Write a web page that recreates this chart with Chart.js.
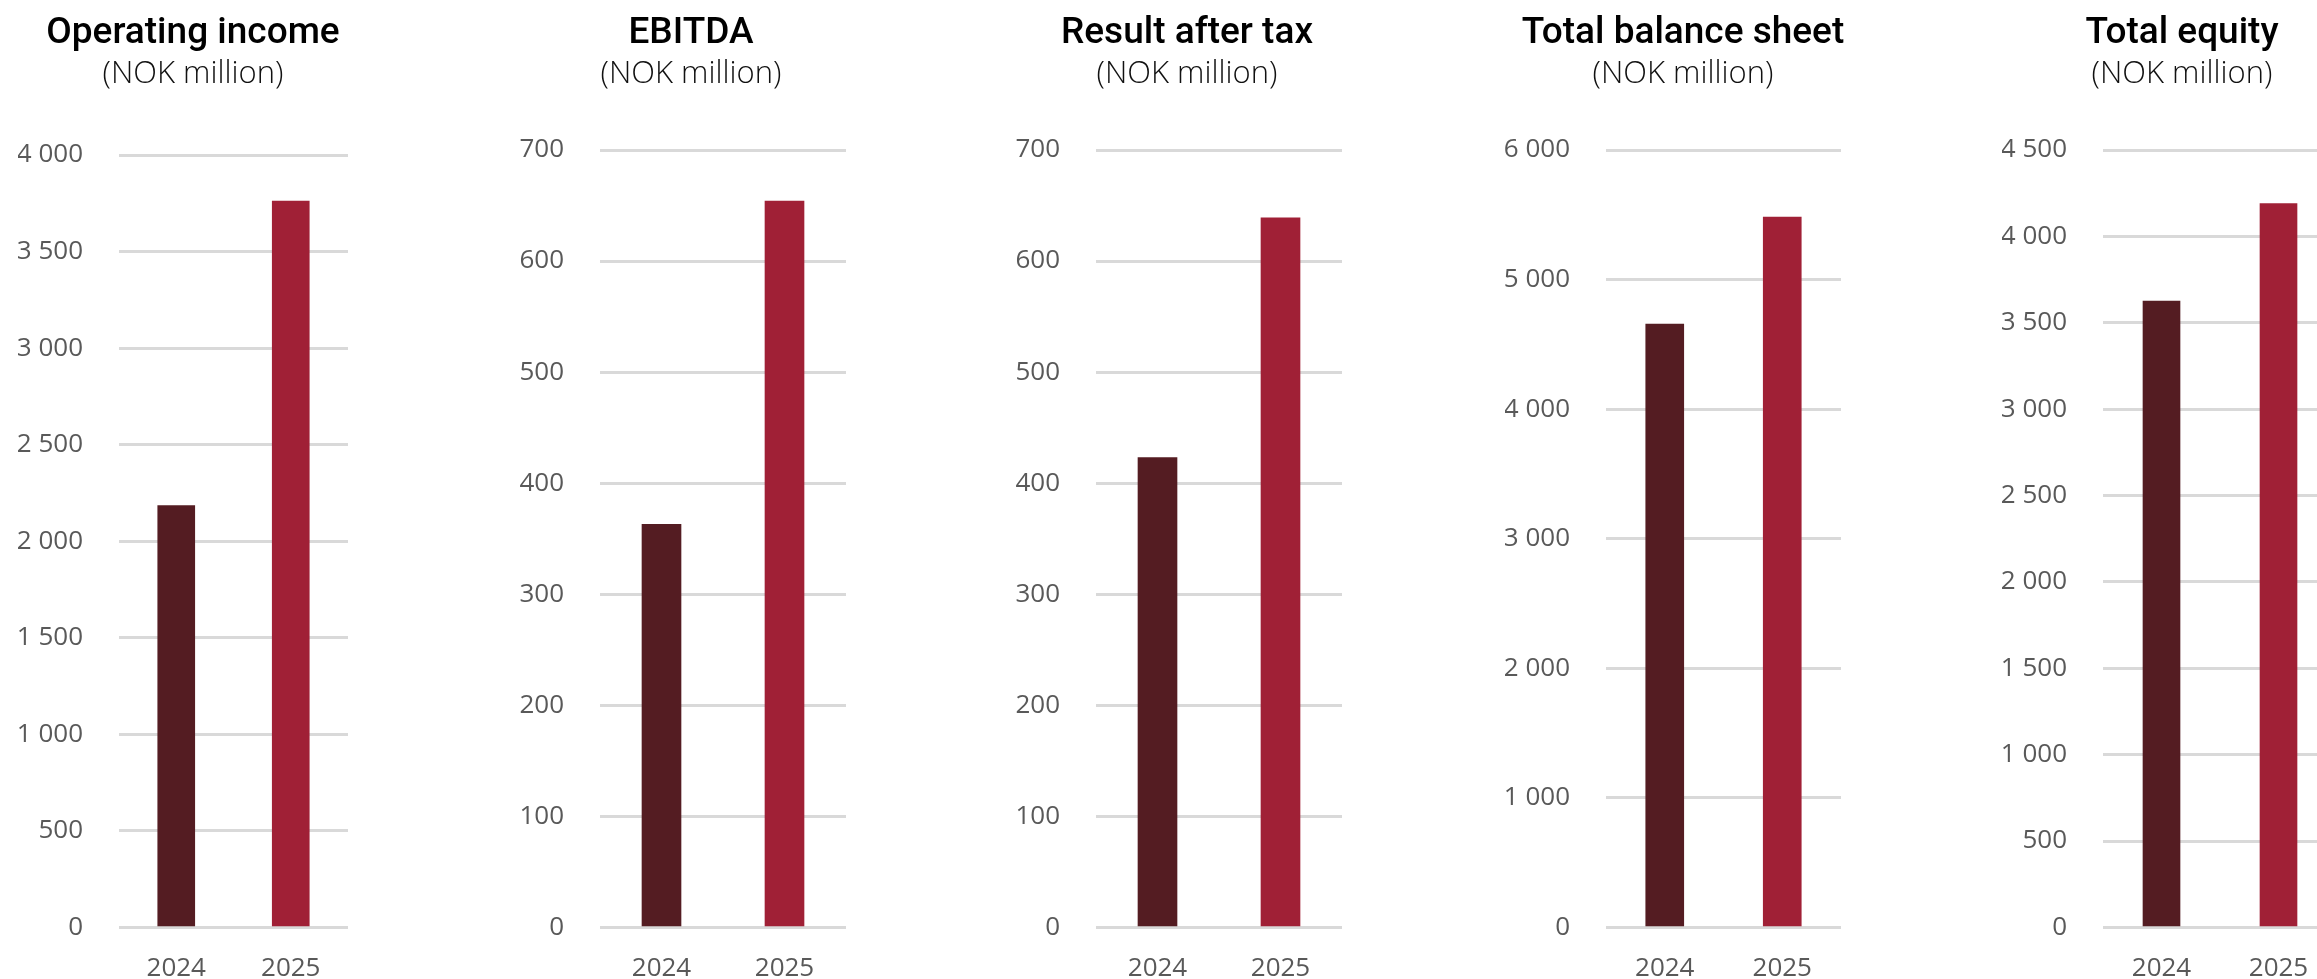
<!DOCTYPE html>
<html>
<head>
<meta charset="utf-8">
<title>Key figures</title>
<script src="https://cdn.jsdelivr.net/npm/chart.js@4.4.1/dist/chart.umd.min.js"></script>
<style>
  html, body { margin: 0; padding: 0; background: #fff; }
  body { width: 2317px; height: 979px; position: relative; overflow: hidden; }
  canvas { position: absolute; top: 0; }
</style>
</head>
<body>
<canvas id="c1"></canvas>
<canvas id="c2"></canvas>
<canvas id="c3"></canvas>
<canvas id="c4"></canvas>
<canvas id="c5"></canvas>
<script>
// data
const years = ['2024', '2025'];
const operatingIncome   = [2185, 3762];
const ebitda            = [363, 654];
const resultAfterTax    = [423, 639];
const totalBalanceSheet = [4656, 5482];
const totalEquity       = [3625, 4190];

const titles = ['Operating income', 'EBITDA', 'Result after tax', 'Total balance sheet', 'Total equity'];
const unitLabel = '(NOK million)';
const yMax  = [4000, 700, 700, 6000, 4500];
const yStep = [500, 100, 100, 1000, 500];

const COL_2024 = '#541c22';
const COL_2025 = '#a02036';
const GRID = '#d9d9d9';
const TICK = '#595959';

// where each small chart sits on the page
const panels = [
  { id: 'c1', left: 18,   width: 350, axisW: 101, padRight: 20, top: 155, bar: 37 },
  { id: 'c2', left: 520,  width: 342, axisW: 80,  padRight: 16, top: 150, bar: 39 },
  { id: 'c3', left: 1016, width: 342, axisW: 80,  padRight: 16, top: 150, bar: 39 },
  { id: 'c4', left: 1505, width: 356, axisW: 101, padRight: 20, top: 150, bar: 38 },
  { id: 'c5', left: 2002, width: 360, axisW: 101, padRight: 25, top: 150, bar: 37 }
];
const CANVAS_H = 979;
const PLOT_BOTTOM = 928;

const charts = [];

document.addEventListener('DOMContentLoaded', () => {
  const series = [operatingIncome, ebitda, resultAfterTax, totalBalanceSheet, totalEquity];
  panels.forEach((p, i) => charts.push(renderPanel(p, i, series[i])));
});

function fmtNum(v){ return String(v).replace(/\B(?=(\d{3})+(?!\d))/g, ' '); }

function renderPanel(p, i, values){
  const cv = document.getElementById(p.id);
  cv.style.left = p.left + 'px';
  cv.width = p.width; cv.height = CANVAS_H;
  cv.style.width = p.width + 'px'; cv.style.height = CANVAS_H + 'px';

  const titleH = 12 + 37 * 1.2;   // title box
  const subH   = -1 + 31 * 1.2;   // subtitle box, bottom pad not counted

  return new Chart(cv.getContext('2d'), {
    type: 'bar',
    data: {
      labels: years,
      datasets: [{
        data: values,
        backgroundColor: [COL_2024, COL_2025],
        borderWidth: 0,
        barThickness: p.bar
      }]
    },
    options: {
      responsive: false,
      animation: false,
      devicePixelRatio: 1,
      plugins: {
        legend: { display: false },
        tooltip: { enabled: false },
        title: {
          display: true, text: titles[i], color: '#000',
          font: { family: 'Roboto', size: 37, weight: '500' },
          padding: { top: 12, bottom: 0 }
        },
        subtitle: {
          display: true, text: unitLabel, color: '#111',
          font: { family: 'Open Sans', size: 31, weight: '300' },
          padding: { top: -1, bottom: p.top - titleH - subH }
        }
      },
      scales: {
        x: {
          grid: { display: false },
          border: { display: false },
          ticks: { color: TICK, font: { family: 'Open Sans', size: 26 }, padding: 18 },
          afterFit: s => { s.height = CANVAS_H - PLOT_BOTTOM; }
        },
        y: {
          min: 0, max: yMax[i],
          border: { display: false },
          grid: { color: GRID, lineWidth: 3, drawTicks: false },
          ticks: {
            stepSize: yStep[i], color: TICK, padding: 36,
            font: { family: 'Open Sans', size: 26 },
            callback: v => fmtNum(v)
          },
          afterFit: s => { s.width = p.axisW; }
        },
        // empty right axis: keeps the gap right of the plot without moving the centred title
        gap: {
          position: 'right',
          grid: { display: false },
          border: { display: false },
          ticks: { display: false },
          afterFit: s => { s.width = p.padRight; }
        }
      }
    }
  });
}
</script>
</body>
</html>
